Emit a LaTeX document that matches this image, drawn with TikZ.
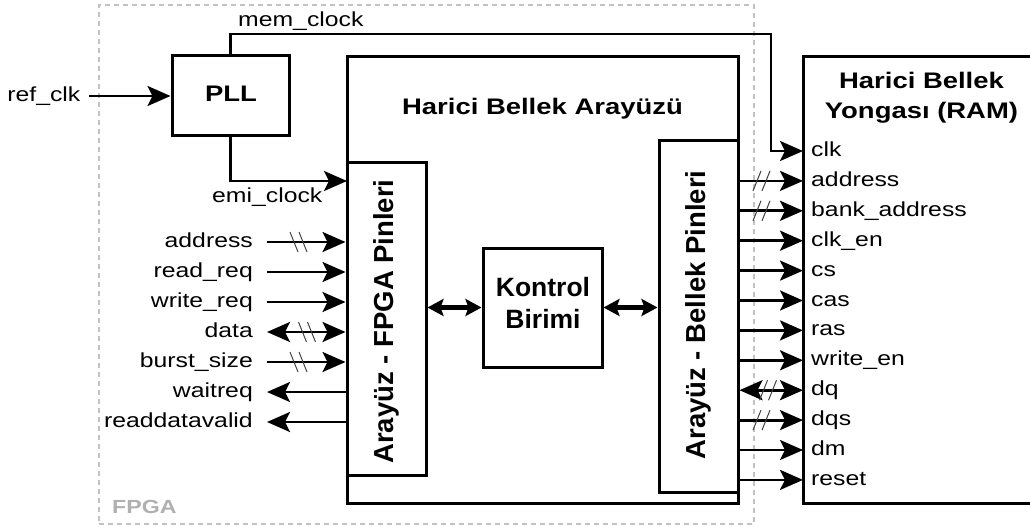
\documentclass[tikz,border=0pt]{standalone}
\usepackage{fontspec}
\setmainfont{Liberation Sans}[FakeStretch=1.22]
\newfontfamily\upfont{Liberation Sans}
\usetikzlibrary{arrows.meta}
\begin{document}
\begin{tikzpicture}[x=1pt,y=-1pt,
  box/.style={draw,line width=3pt,inner sep=0pt},
  frame/.style={draw=gray!48,line width=2pt,dash pattern=on 5pt off 4pt,inner sep=0pt},
  lbl/.style={inner sep=0pt,font=\fontsize{20.3}{24}\selectfont},
  ttl/.style={inner sep=0pt,font=\bfseries\fontsize{22.5}{27}\selectfont},
  rot/.style={inner sep=0pt,rotate=90,font=\upfont\bfseries\fontsize{27.5}{32}\selectfont},
  ctltxt/.style={inner sep=0pt,font=\upfont\bfseries\fontsize{26.5}{32}\selectfont},
  sig/.style={line width=2.8pt,line join=miter,-{Stealth[length=23pt,width=20pt,inset=5pt]}},
  bidir/.style={line width=2.8pt,{Stealth[length=23pt,width=20pt,inset=5pt]}-{Stealth[length=23pt,width=20pt,inset=5pt]}},
  thickbidir/.style={line width=4.5pt,{Stealth[length=16pt,width=17pt,inset=3pt]}-{Stealth[length=16pt,width=17pt,inset=3pt]}},
  busback/.pic={\draw[line width=1pt,black!75] (-9,-10) -- (-1,10) (0,-10) -- (8,10);},
  busfwd/.pic={\draw[line width=1pt,black!75] (-9,10) -- (-1,-10) (0,10) -- (8,-10);}
]
\useasboundingbox (0,0) rectangle (1030,527);
\clip (0,0) rectangle (1030,527);

% FPGA boundary
\node[frame,minimum width=655pt,minimum height=519pt] (fpga) at (426.5,264.5) {};
\node[inner sep=0pt,anchor=base west,text=gray!62,font=\bfseries\fontsize{19}{23}\selectfont] (fpgalbl) at (112,513.3) {FPGA};

% blocks
\node[box,minimum width=117pt,minimum height=79pt] (pll) at (230.5,95.5) {};
\node[ttl,anchor=base] (plltxt) at (231,101.7) {PLL};

\node[box,minimum width=391pt,minimum height=446pt] (emi) at (542.5,280) {};
\node[ttl,anchor=base] (emitxt) at (542.5,114.3) {Harici Bellek Arayüzü};

\node[box,minimum width=79pt,minimum height=313pt] (fp) at (386.5,318.5) {};
\node[rot,anchor=base] (fptxt) at (393,321.5) {Arayüz - FPGA Pinleri};

\node[box,minimum width=79pt,minimum height=352pt] (bp) at (698.5,316) {};
\node[rot,anchor=base] (bptxt) at (705,315) {Arayüz - Bellek Pinleri};

\node[box,minimum width=119pt,minimum height=119pt] (ctl) at (542.5,307.5) {};
\node[ctltxt,anchor=base] (ctl1) at (543,296.7) {Kontrol};
\node[ctltxt,anchor=base] (ctl2) at (543,328.3) {Birimi};

\node[box,minimum width=240pt,minimum height=446pt] (ram) at (923,280) {};
\node[ttl,anchor=base] (ram1) at (921.5,88.3) {Harici Bellek};
\node[ttl,anchor=base] (ram2) at (921.5,118.3) {Yongası (RAM)};

% clock inputs and outputs
\node[lbl,anchor=base east] (refl) at (80.5,101.7) {ref\_clk};
\coordinate (refs) at (89,96);
\draw[sig] (refs) -- (refs -| pll.west);

\coordinate (emiin) at (347,181);
\draw[sig] (pll.south) |- (emiin);
\node[lbl,anchor=base west] (emil) at (212,202) {emi\_clock};

% memory-side pins
\foreach \i/\t in {0/clk,1/address,2/bank\_address,3/clk\_en,4/cs,5/cas,6/ras,7/write\_en,8/dq,9/dqs,10/dm,11/reset}{
  \pgfmathsetmacro\yy{151+29.9*\i}
  \node[lbl,anchor=base west] (rl\i) at (811,\yy+5.5) {\t};
  \coordinate (rp\i) at (803,\yy);
}
\coordinate (mcturn) at (771,34);
\draw[sig] (pll.north) |- (mcturn) |- (rp0);
\node[lbl,anchor=base west] (mcl) at (238,27) {mem\_clock};

\foreach \i in {1,2,3,4,5,6,7,9,10,11}{
  \draw[sig] (bp.east |- rp\i) -- (rp\i);
}
\draw[bidir] (bp.east |- rp8) -- (rp8);
\pic at (762,180.9) {busfwd};
\pic at (762,210.8) {busfwd};
\pic at (768.5,390.2) {busfwd};
\pic at (762,420.1) {busfwd};

% FPGA-side pins
\foreach \i/\y/\t in {1/242/address,2/272/read\_req,3/302/write\_req,4/332/data,5/362/burst\_size,6/392/waitreq,7/422/readdatavalid}{
  \node[lbl,anchor=base east] (fl\i) at (253,\y+5.5) {\t};
  \coordinate (fs\i) at (267,\y);
}
\draw[sig] (fs1) -- (fs1 -| fp.west);
\draw[sig] (fs2) -- (fs2 -| fp.west);
\draw[sig] (fs3) -- (fs3 -| fp.west);
\draw[bidir] (fs4) -- (fs4 -| fp.west);
\draw[sig] (fs5) -- (fs5 -| fp.west);
\draw[sig] (fs6 -| fp.west) -- (fs6);
\draw[sig] (fs7 -| fp.west) -- (fs7);
\pic at (299,242) {busback};
\pic at (307.5,332) {busback};
\pic at (299,362) {busback};

% links to the control unit
\draw[thickbidir] (fp.east |- ctl.west) -- (ctl.west);
\draw[thickbidir] (ctl.east) -- (ctl.east -| bp.west);
\end{tikzpicture}
\end{document}
